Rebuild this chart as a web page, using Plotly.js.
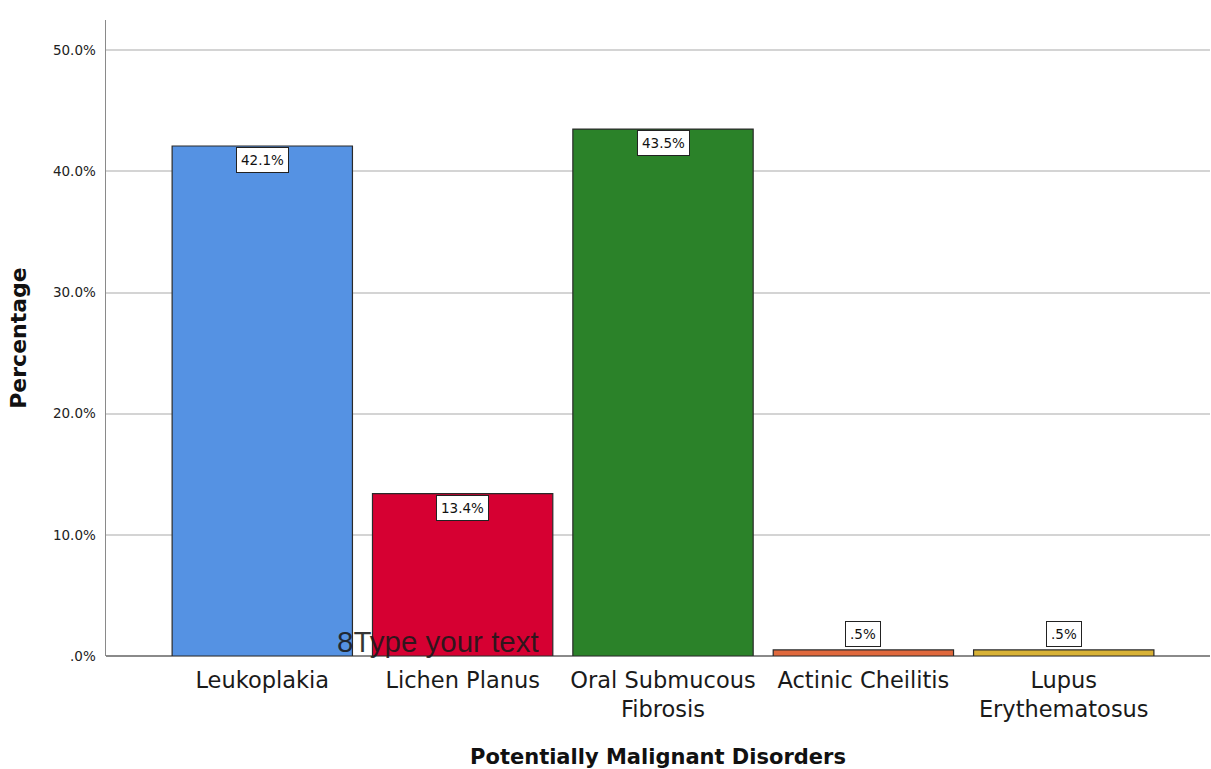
<!DOCTYPE html>
<html>
<head>
<meta charset="utf-8">
<script src="https://cdn.plot.ly/plotly-3.0.1.min.js"></script>
<style>
  html, body { margin: 0; padding: 0; background: #fff; }
  #chart { width: 1211px; height: 769px; }
</style>
</head>
<body>
<div id="chart"></div>
<script>
// Share of patients by potentially malignant disorder
const categories = ["Leukoplakia", "Lichen Planus", "Oral Submucous<br>Fibrosis", "Actinic Cheilitis", "Lupus<br>Erythematosus"];
const percentages = [42.1, 13.4, 43.5, 0.5, 0.5];
const barColors = ["#5592e3", "#d60032", "#2b8229", "#e0693d", "#d8b236"];
const yTickValues = [0, 10, 20, 30, 40, 50];
const yTickLabels = [".0%", "10.0%", "20.0%", "30.0%", "40.0%", "50.0%"];

// SPSS-style percent label: one decimal, no leading zero
function pctLabel(v) {
  return v.toFixed(1).replace(/^0\./, ".") + "%";
}

const x = categories.map((_, i) => i);

const trace = {
  type: "bar",
  x: x,
  y: percentages,
  width: 0.9,
  marker: {
    color: barColors,
    line: { color: "#2a2a2a", width: 1.2 }
  },
  hoverinfo: "skip"
};

// Boxed value labels: inside the top of tall bars, just above short ones
const valueLabels = percentages.map((v, i) => ({
  x: i,
  y: v,
  xref: "x",
  yref: "y",
  text: pctLabel(v),
  showarrow: false,
  yanchor: v > 5 ? "top" : "bottom",
  yshift: v > 5 ? -1 : 3,
  font: { family: "DejaVu Sans", size: 13.5, color: "#111" },
  bgcolor: "#ffffff",
  bordercolor: "#222",
  borderwidth: 1,
  borderpad: 4
}));

const strayText = {
  x: 1.0,
  y: 0,
  xref: "x",
  yref: "y",
  xanchor: "center",
  yanchor: "bottom",
  yshift: -4,
  xshift: -25,
  text: "8Type your text",
  showarrow: false,
  font: { family: "Liberation Sans", size: 29.5, color: "rgba(25,25,25,0.88)" }
};

const layout = {
  width: 1211,
  height: 769,
  margin: { l: 106, r: 1, t: 20, b: 113 },
  paper_bgcolor: "#ffffff",
  plot_bgcolor: "#ffffff",
  showlegend: false,
  bargap: 0.1,
  xaxis: {
    range: [-0.78, 4.73],
    tickvals: x,
    ticktext: categories,
    showgrid: false,
    zeroline: false,
    showline: false,
    ticks: "",
    ticklabelstandoff: 8,
    tickfont: { family: "DejaVu Sans", size: 22.5, color: "#1a1a1a" },
    title: {
      text: "<b>Potentially Malignant Disorders</b>",
      font: { family: "DejaVu Sans", size: 21, color: "#111" },
      standoff: 32
    },
    fixedrange: true
  },
  yaxis: {
    range: [0, 52.5],
    tickvals: yTickValues,
    ticktext: yTickLabels,
    showgrid: true,
    gridcolor: "#d4d4d4",
    gridwidth: 2,
    zeroline: true,
    zerolinecolor: "#8a8a8a",
    zerolinewidth: 2,
    showline: true,
    linecolor: "#8a8a8a",
    linewidth: 1.5,
    ticks: "",
    ticklabelstandoff: 6,
    tickfont: { family: "DejaVu Sans", size: 13.5, color: "#222" },
    title: {
      text: "<b>Percentage</b>",
      font: { family: "DejaVu Sans", size: 22, color: "#111" },
      standoff: 20
    },
    fixedrange: true
  },
  annotations: valueLabels.concat([strayText])
};

Plotly.newPlot("chart", [trace], layout, { displayModeBar: false, staticPlot: true });
</script>
</body>
</html>
